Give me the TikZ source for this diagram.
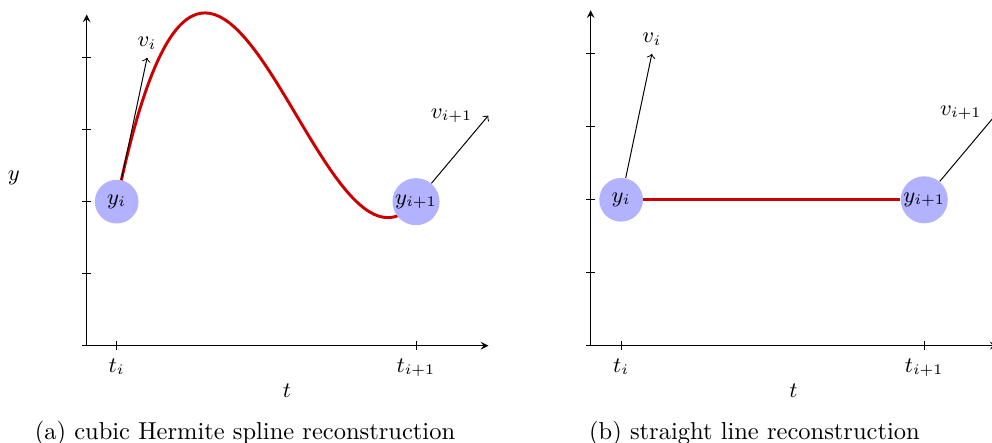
\documentclass[tikz,border=0pt]{standalone}
\usetikzlibrary{backgrounds}
\tikzset{
  knot/.style={
    shape = circle,
    fill = blue!30,
    inner sep = 0.5pt,
    minimum size = 0.627cm
  },
  axisline/.style={
    -stealth
  },
  recon/.style={
    very thick,
    red!80!black
  },
  caption/.style={
    font = \normalsize,
    anchor = base
  }
}
\begin{document}
\begin{tikzpicture}[x=1.033cm,y=1.033cm,font=\small]
    \useasboundingbox (-1.204,-1.351) rectangle (12.574,4.801);
    \foreach \p/\s/\k in {a/0/1,b/7/1.013}{
        \begin{scope}[shift={(\s,0)},scale=\k]
            \draw[axisline] (-0.05,0) -- (5.58,0);
            \draw[axisline] (0,0) -- (0,4.6);
            \foreach \y in {0,...,4}
                \draw (-0.065,\y) -- (0.065,\y);
            \draw (0.417,0.06) -- (0.417,-0.06) node[below] (\p-ti) {$t_i$};
            \draw (4.574,0.06) -- (4.574,-0.06) node[below] (\p-tj) {$t_{i+1}$};
            \node (\p-t) at (2.78,-0.62) {$t$};
            \node[knot] (\p-yi) at (0.417,2) {$y_i$};
            \node[knot] (\p-yj) at (4.574,2) {$y_{i+1}$};
            \coordinate (\p-vi) at (0.839,4);
            \coordinate (\p-vj) at (5.578,3.195);
            \draw[->] (\p-yi) -- (\p-vi) node[above] {$v_i$};
            \draw[->] (\p-yj) -- (\p-vj) node[left=3pt] {$v_{i+1}$};
        \end{scope}
    }
    \node (a-y) at (-1.01,2.325) {$y$};
    \begin{scope}[on background layer]
        \draw[recon] (a-yi.center) .. controls +(1.386,6.65) and +(-1.386,-1.649) .. (a-yj.center);
    \end{scope}
    \draw[recon] (b-yi) -- (b-yj);
    \node[caption] (a-cap) at (2.199,-1.31) {(a) cubic Hermite spline reconstruction};
    \node[caption] (b-cap) at (9.275,-1.31) {(b) straight line reconstruction};
\end{tikzpicture}
\end{document}
